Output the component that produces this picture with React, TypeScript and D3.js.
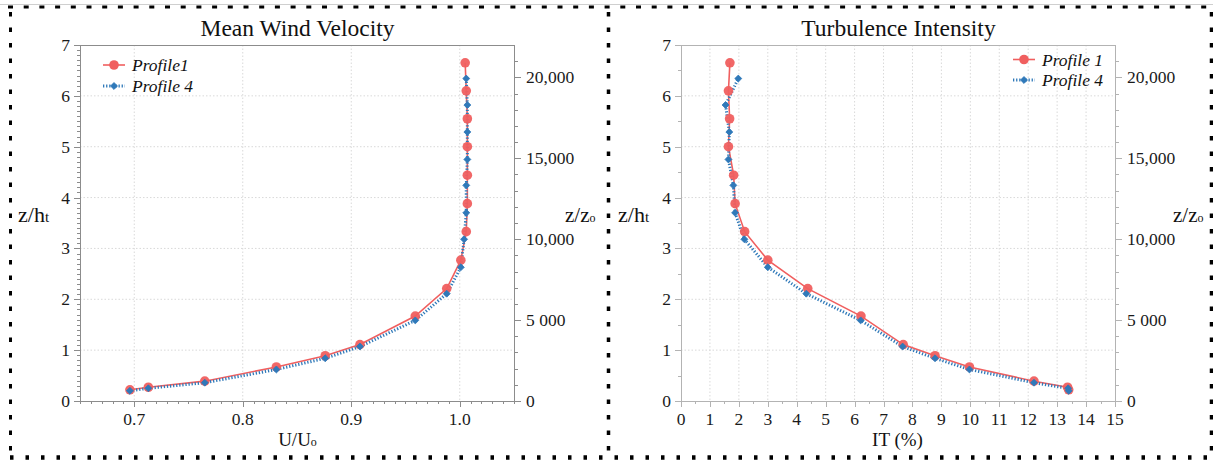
import React, { useEffect, useRef } from "react";
import * as d3 from "d3";

// ---- data ----
const heightsP1 = [0.22, 0.27, 0.39, 0.67, 0.89, 1.11, 1.67, 2.21, 2.77, 3.33, 3.88, 4.44, 5.0, 5.55, 6.1, 6.65];
const heightsP4 = [0.2, 0.25, 0.36, 0.62, 0.84, 1.07, 1.585, 2.11, 2.63, 3.18, 3.7, 4.24, 4.75, 5.29, 5.82, 6.34];
const velocityP1 = [0.696, 0.713, 0.765, 0.831, 0.876, 0.908, 0.959, 0.988, 1.001, 1.006, 1.007, 1.007, 1.007, 1.007, 1.006, 1.005];
const velocityP4 = [0.696, 0.713, 0.765, 0.831, 0.876, 0.908, 0.959, 0.988, 1.001, 1.004, 1.006, 1.006, 1.007, 1.007, 1.007, 1.006];
const turbP1 = [13.4, 13.36, 12.2, 9.97, 8.78, 7.68, 6.22, 4.38, 3.0, 2.2, 1.87, 1.82, 1.64, 1.68, 1.64, 1.69];
const turbP4 = [13.4, 13.38, 12.2, 9.97, 8.78, 7.66, 6.21, 4.33, 3.0, 2.19, 1.87, 1.81, 1.64, 1.67, 1.54, 1.98];

const zTicks = [0, 1, 2, 3, 4, 5, 6, 7];
const velTicks = [0.7, 0.8, 0.9, 1.0];
const velLabels = ["0.7", "0.8", "0.9", "1.0"];
const itTicks = [0, 1, 2, 3, 4, 5, 6, 7, 8, 9, 10, 11, 12, 13, 14, 15];
const itLabels = itTicks.map(String);
const zzoTicks = [0, 5000, 10000, 15000, 20000];
const zzoLabels = ["0", "5 000", "10,000", "15,000", "20,000"];

const RED = "#f05f5f";
const BLUE = "#2f79b9";
const FONT = "'Liberation Serif','Times New Roman',serif";

function rangeStep(a: number, b: number, s: number) {
  const out: number[] = [];
  const n = Math.round((b - a) / s);
  for (let i = 0; i <= n; i++) out.push(+(a + i * s).toFixed(6));
  return out;
}

function panel(svg: any, cfg: any) {
  const { left, right, top, bottom, xDomain, xTicks, xLabels, xMinorStep, yMinorStep, axisColor,
    p1x, p4x, title, titleX, xLabel, xSub, xLabelX, legendLineX, legendY, legendLabels, zhX, zzX } = cfg;
  const x = d3.scaleLinear().domain(xDomain).range([left, right]);
  const y = d3.scaleLinear().domain([0, 7]).range([bottom, top]);
  const y2 = d3.scaleLinear().domain([0, 22000]).range([bottom, top]);
  const g = svg.append("g");

  // grid
  const grid = g.append("g");
  grid.selectAll("line.v").data(xTicks.filter((t: number) => x(t) > left + 1 && x(t) < right - 1)).join("line")
    .attr("class", "v")
    .attr("x1", (d: number) => x(d)).attr("x2", (d: number) => x(d)).attr("y1", top).attr("y2", bottom)
    .attr("stroke", "#d9d9d9").attr("stroke-width", 1).attr("stroke-dasharray", "1.5 2");
  grid.selectAll("line.h").data(zTicks.filter((t) => t > 0 && t < 7)).join("line")
    .attr("class", "h")
    .attr("x1", left).attr("x2", right).attr("y1", (d: number) => y(d)).attr("y2", (d: number) => y(d))
    .attr("stroke", "#d9d9d9").attr("stroke-width", 1).attr("stroke-dasharray", "1.5 2");

  // frame
  const ax = g.append("g").attr("stroke", axisColor).attr("stroke-width", 1).attr("fill", "none");
  ax.append("line").attr("x1", left).attr("x2", right).attr("y1", top + 0.5).attr("y2", top + 0.5);
  ax.append("line").attr("x1", left).attr("x2", right).attr("y1", bottom + 0.5).attr("y2", bottom + 0.5);
  ax.append("line").attr("x1", left + 0.5).attr("x2", left + 0.5).attr("y1", top).attr("y2", bottom + 0.5);
  ax.append("line").attr("x1", right + 0.5).attr("x2", right + 0.5).attr("y1", top).attr("y2", bottom + 0.5);

  // x ticks
  const xMinor = rangeStep(xDomain[0], xDomain[1], xMinorStep);
  ax.selectAll("line.xm").data(xMinor).join("line").attr("class", "xm")
    .attr("x1", (d: number) => Math.round(x(d)) + 0.5).attr("x2", (d: number) => Math.round(x(d)) + 0.5)
    .attr("y1", bottom).attr("y2", bottom + 3);
  ax.selectAll("line.xM").data(xTicks).join("line").attr("class", "xM")
    .attr("x1", (d: number) => Math.round(x(d)) + 0.5).attr("x2", (d: number) => Math.round(x(d)) + 0.5)
    .attr("y1", bottom).attr("y2", bottom + 6);
  // left y ticks
  const yMinor = rangeStep(0, 7, yMinorStep);
  ax.selectAll("line.ym").data(yMinor).join("line").attr("class", "ym")
    .attr("x1", left - 3).attr("x2", left)
    .attr("y1", (d: number) => Math.round(y(d)) + 0.5).attr("y2", (d: number) => Math.round(y(d)) + 0.5);
  ax.selectAll("line.yM").data(zTicks).join("line").attr("class", "yM")
    .attr("x1", left - 6).attr("x2", left)
    .attr("y1", (d: number) => Math.round(y(d)) + 0.5).attr("y2", (d: number) => Math.round(y(d)) + 0.5);
  // right y2 ticks
  const y2Minor = rangeStep(0, 21000, 1000);
  ax.selectAll("line.y2m").data(y2Minor).join("line").attr("class", "y2m")
    .attr("x1", right).attr("x2", right + 4)
    .attr("y1", (d: number) => Math.round(y2(d)) + 0.5).attr("y2", (d: number) => Math.round(y2(d)) + 0.5);
  ax.selectAll("line.y2M").data(zzoTicks).join("line").attr("class", "y2M")
    .attr("x1", right).attr("x2", right + 7)
    .attr("y1", (d: number) => Math.round(y2(d)) + 0.5).attr("y2", (d: number) => Math.round(y2(d)) + 0.5);

  // tick labels
  const tl = g.append("g").attr("font-family", FONT).attr("font-size", 17.5).attr("fill", "#1a1a1a");
  tl.selectAll("text.x").data(xTicks).join("text").attr("class", "x")
    .attr("x", (d: number) => x(d)).attr("y", bottom + 24).attr("text-anchor", "middle")
    .text((d: number, i: number) => xLabels[i]);
  tl.selectAll("text.y").data(zTicks).join("text").attr("class", "y")
    .attr("x", left - 10).attr("y", (d: number) => y(d) + 6).attr("text-anchor", "end")
    .text((d: number) => String(d));
  tl.selectAll("text.y2").data(zzoTicks).join("text").attr("class", "y2")
    .attr("x", right + 12).attr("y", (d: number) => y2(d) + 6).attr("text-anchor", "start")
    .text((d: number, i: number) => zzoLabels[i]);

  // title
  g.append("text").attr("x", titleX).attr("y", 36).attr("text-anchor", "middle")
    .attr("font-family", FONT).attr("font-size", 23.5).attr("fill", "#111").text(title);

  // axis labels
  const xl = g.append("text").attr("x", xLabelX).attr("y", 446).attr("text-anchor", "middle")
    .attr("font-family", FONT).attr("font-size", 19).attr("fill", "#111");
  xl.append("tspan").text(xLabel);
  if (xSub) xl.append("tspan").attr("font-size", 12).text(xSub);

  const zh = g.append("text").attr("x", zhX).attr("y", 222).attr("font-family", FONT)
    .attr("font-size", 22).attr("fill", "#111");
  zh.append("tspan").text("z/h");
  zh.append("tspan").attr("font-size", 15).text("t");
  const zz = g.append("text").attr("x", zzX).attr("y", 222).attr("font-family", FONT)
    .attr("font-size", 21).attr("fill", "#111");
  zz.append("tspan").text("z/z");
  zz.append("tspan").attr("font-size", 12).text("o");

  // series
  const line = d3.line<[number, number]>().x((d) => x(d[0])).y((d) => y(d[1]));
  const s1 = d3.zip(p1x, heightsP1) as [number, number][];
  const s4 = d3.zip(p4x, heightsP4) as [number, number][];
  const series = g.append("g");
  series.append("path").datum(s1).attr("d", line).attr("fill", "none").attr("stroke", RED).attr("stroke-width", 1.6);
  series.append("path").datum(s4).attr("d", line).attr("fill", "none").attr("stroke", BLUE)
    .attr("stroke-width", 3).attr("stroke-dasharray", "1.3 1.8");
  series.selectAll("circle.p1").data(s1).join("circle").attr("class", "p1")
    .attr("cx", (d: [number, number]) => x(d[0])).attr("cy", (d: [number, number]) => y(d[1])).attr("r", 4.8)
    .attr("fill", RED).attr("fill-opacity", 0.95);
  const diamond = d3.symbol().type(d3.symbolSquare).size(24);
  series.selectAll("path.p4").data(s4).join("path").attr("class", "p4")
    .attr("transform", (d: [number, number]) => `translate(${x(d[0])},${y(d[1])}) rotate(45)`)
    .attr("d", diamond as any).attr("fill", BLUE).attr("stroke", BLUE).attr("stroke-width", 0.8)
    .attr("stroke-linejoin", "round");

  // legend
  const lg = g.append("g");
  [0, 1].forEach((i) => {
    const ly = legendY[i];
    const color = i === 0 ? RED : BLUE;
    const ln = lg.append("line").attr("x1", legendLineX).attr("x2", legendLineX + 22)
      .attr("y1", ly).attr("y2", ly).attr("stroke", color);
    if (i === 0) {
      ln.attr("stroke-width", 1.6);
      lg.append("circle").attr("cx", legendLineX + 11).attr("cy", ly).attr("r", 4.8).attr("fill", RED);
    } else {
      ln.attr("stroke-width", 3).attr("stroke-dasharray", "1.3 1.8");
      lg.append("path").attr("transform", `translate(${legendLineX + 11},${ly}) rotate(45)`)
        .attr("d", diamond as any).attr("fill", BLUE).attr("stroke", BLUE).attr("stroke-width", 0.8);
    }
    lg.append("text").attr("x", legendLineX + 29).attr("y", ly + 6).attr("font-family", FONT)
      .attr("font-style", "italic").attr("font-size", 17.5).attr("fill", "#111").text(legendLabels[i]);
  });
}

export default function App() {
  const ref = useRef<SVGSVGElement>(null);
  useEffect(() => {
    const svg = d3.select(ref.current);
    svg.selectAll("*").remove();
    svg.append("rect").attr("width", 1213).attr("height", 461).attr("fill", "#fff");
    svg.append("line").attr("x1", 0).attr("x2", 1213).attr("y1", 4.5).attr("y2", 4.5)
      .attr("stroke", "#cfcfcf").attr("stroke-width", 1);

    panel(svg, {
      left: 80, right: 514, top: 45, bottom: 401,
      xDomain: [0.65, 1.05], xTicks: velTicks, xLabels: velLabels, xMinorStep: 0.01, yMinorStep: 0.1,
      axisColor: "#8c8c8c", p1x: velocityP1, p4x: velocityP4,
      title: "Mean Wind Velocity", titleX: 297.5, xLabel: "U/U", xSub: "o", xLabelX: 297.5,
      legendLineX: 103, legendY: [65, 86], legendLabels: ["Profile1", "Profile 4"], zhX: 18, zzX: 565,
    });
    panel(svg, {
      left: 681, right: 1115, top: 45, bottom: 401,
      xDomain: [0, 15], xTicks: itTicks, xLabels: itLabels, xMinorStep: 0.5, yMinorStep: 0.5,
      axisColor: "#b3b3b3", p1x: turbP1, p4x: turbP4,
      title: "Turbulence Intensity", titleX: 898.5, xLabel: "IT (%)", xSub: "", xLabelX: 897.5,
      legendLineX: 1013, legendY: [59.5, 80], legendLabels: ["Profile 1", "Profile 4"], zhX: 618, zzX: 1173,
    });

    // dotted borders
    const b = svg.append("g").attr("stroke", "#000").attr("fill", "none");
    b.append("line").attr("x1", 8).attr("x2", 1213).attr("y1", 7).attr("y2", 7)
      .attr("stroke-width", 3).attr("stroke-dasharray", "5 10.7");
    b.append("line").attr("x1", 10.5).attr("x2", 10.5).attr("y1", 12).attr("y2", 461)
      .attr("stroke-width", 3).attr("stroke-dasharray", "4.5 11");
    b.append("line").attr("x1", 608.5).attr("x2", 608.5).attr("y1", 12).attr("y2", 461)
      .attr("stroke-width", 3.5).attr("stroke-dasharray", "4.5 11");
    b.append("line").attr("x1", 1211.5).attr("x2", 1211.5).attr("y1", 12).attr("y2", 461)
      .attr("stroke-width", 3.5).attr("stroke-dasharray", "4.5 11");
    b.append("line").attr("x1", 10).attr("x2", 1213).attr("y1", 457.5).attr("y2", 457.5)
      .attr("stroke-width", 4.5).attr("stroke-dasharray", "3.5 12");
  }, []);
  return (
    <svg ref={ref} width={1213} height={461}
      style={{ position: "absolute", left: 0, top: 0, display: "block", background: "#fff" }} />
  );
}
